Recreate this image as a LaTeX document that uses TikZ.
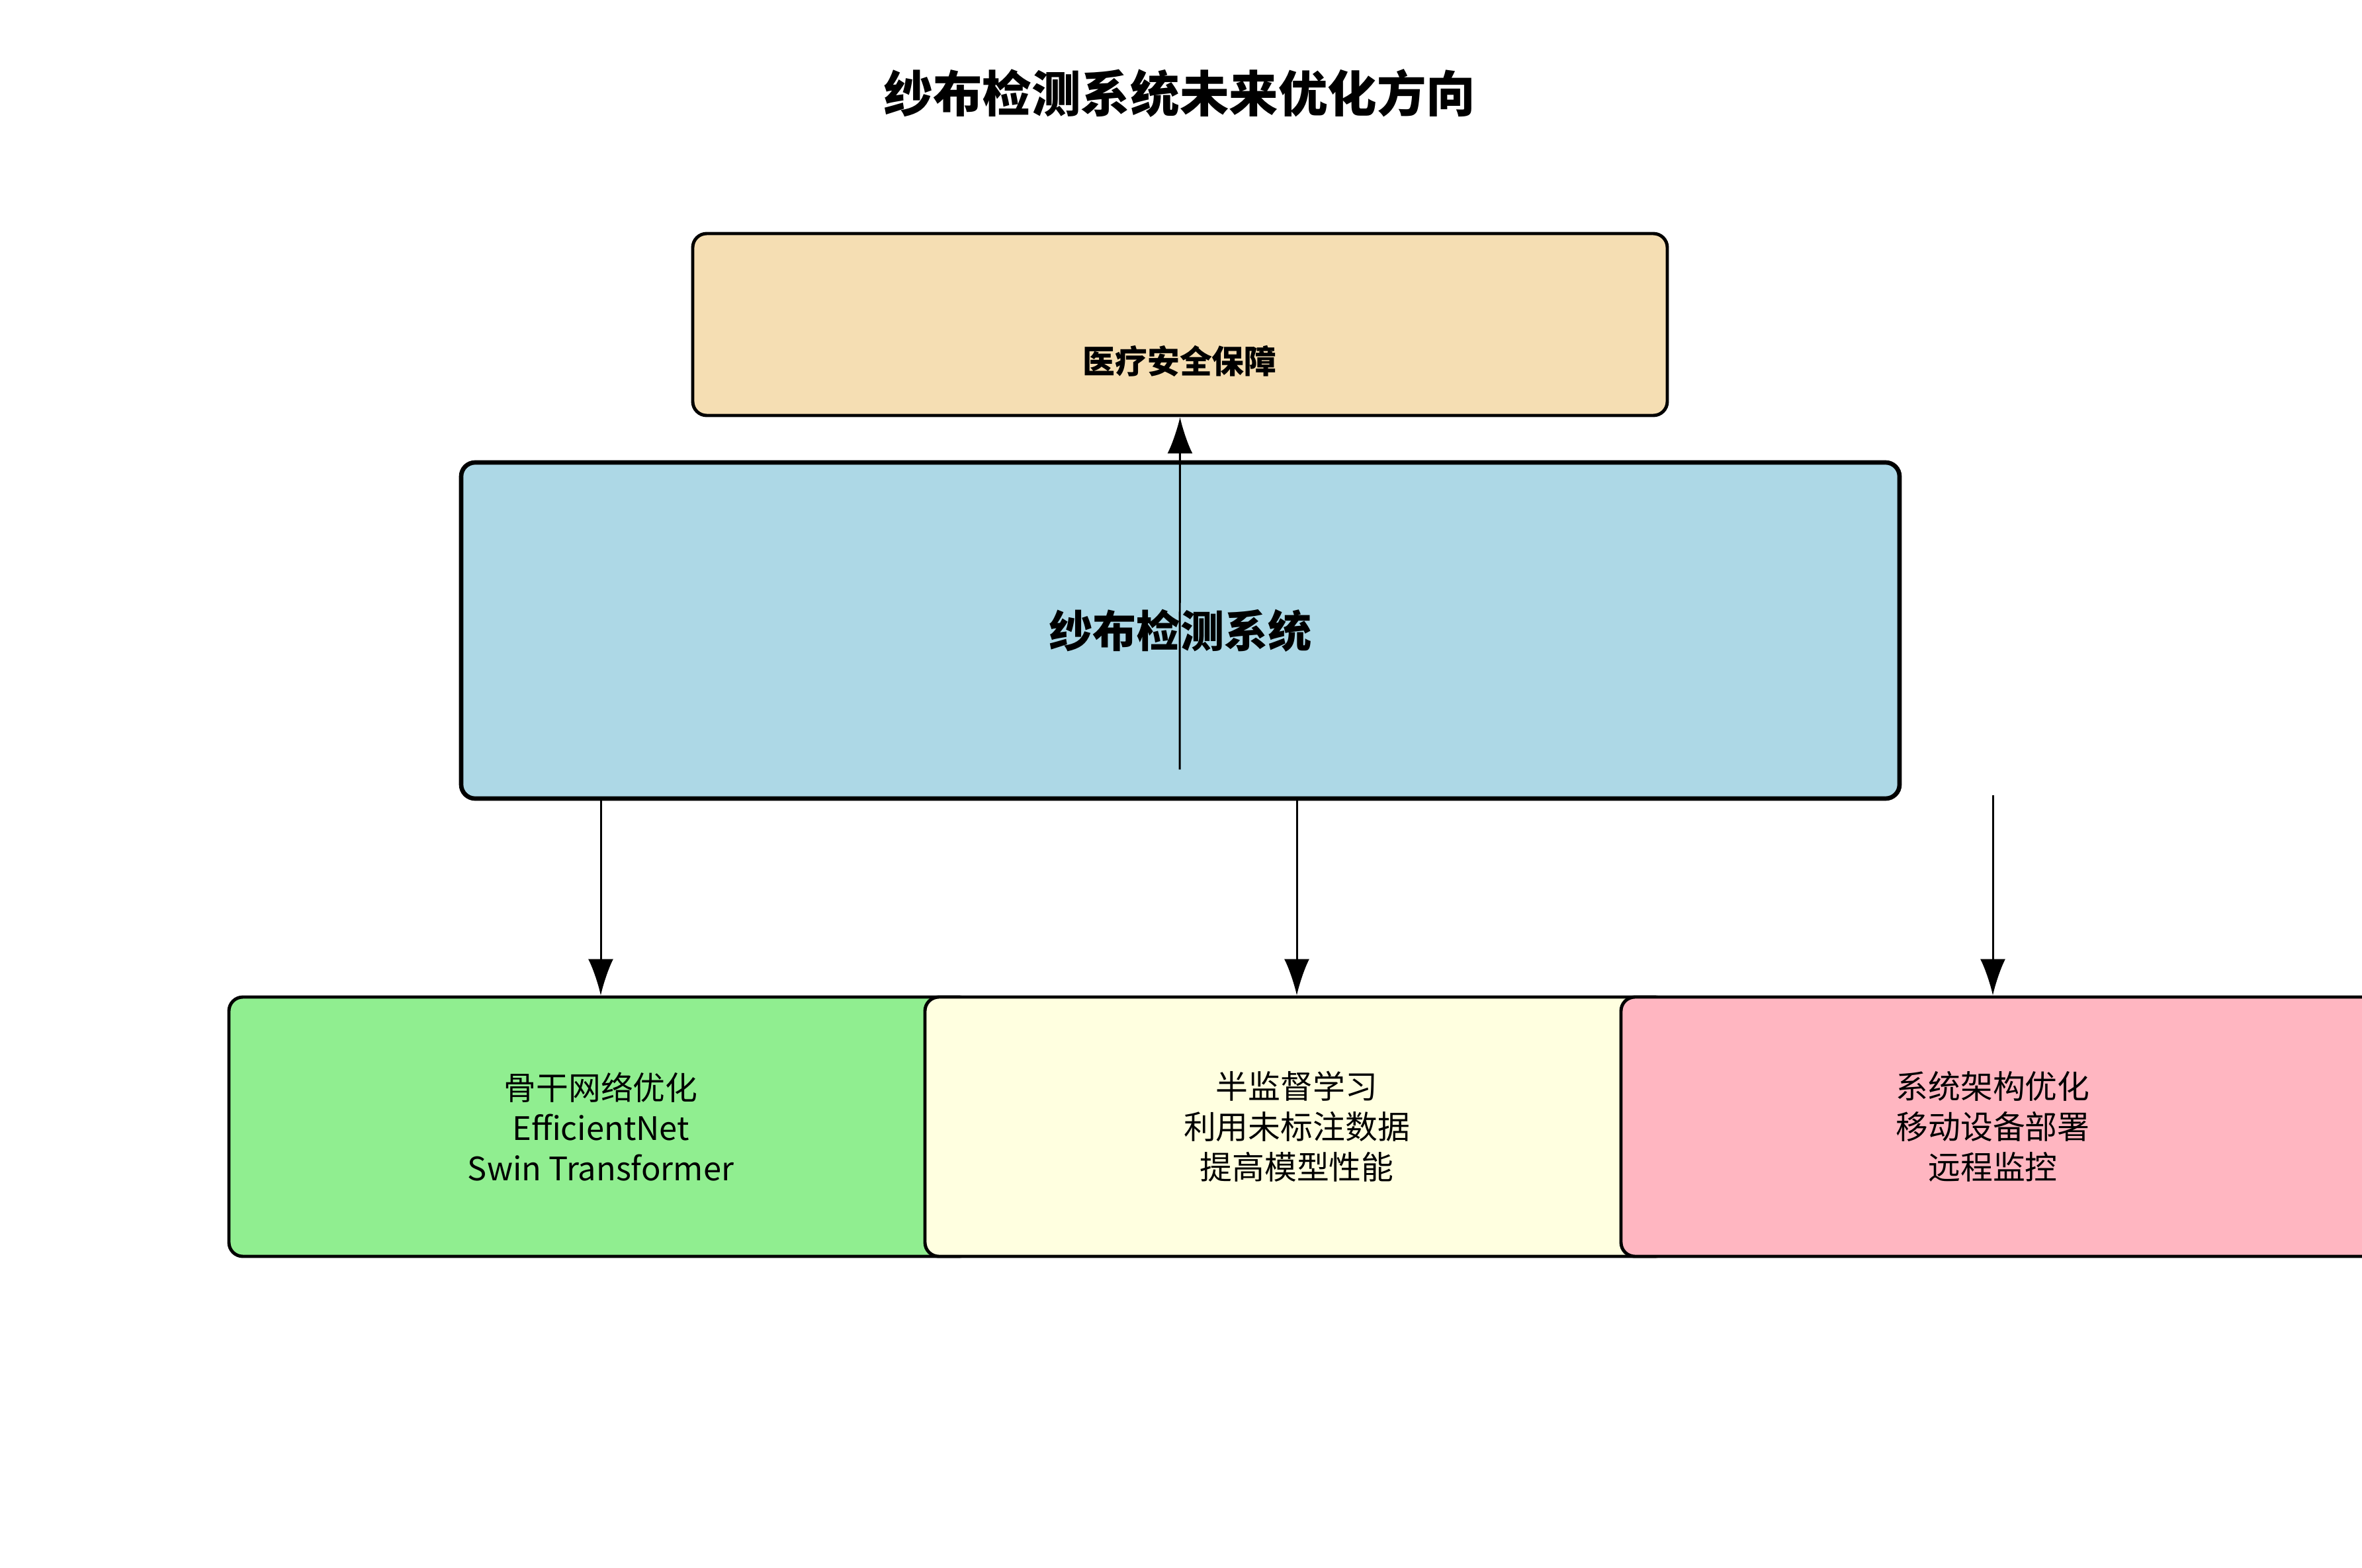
\documentclass[tikz,border=0pt]{standalone}
\usepackage{fontspec}
\setmainfont{Noto Sans CJK SC}
\usetikzlibrary{arrows.meta,calc}
\definecolor{ink}{HTML}{000000}
\definecolor{wheatbg}{HTML}{F5DEB3}
\definecolor{bluebg}{HTML}{ADD8E6}
\definecolor{greenbg}{HTML}{90EE90}
\definecolor{yellowbg}{HTML}{FFFFE0}
\definecolor{pinkbg}{HTML}{FFB6C1}

\begin{document}
\begin{tikzpicture}[x=1cm,y=-1cm,text=ink,
  box/.style={draw=ink,line width=1.4pt,rounded corners=6pt,
    align=center,inner sep=0pt},
  item/.style={box,minimum width=11.24cm,minimum height=3.92cm,
    font=\fontsize{13.9}{17.3}\selectfont},
  flow/.style={-{Latex[length=0.55cm,width=0.38cm]},line width=.85pt,draw=ink}]
\useasboundingbox (0,0) rectangle (35.7,23.7);

% title
\node[font=\bfseries\fontsize{21.2}{25}\selectfont] (title) at (17.83,1.41)
  {纱布检测系统未来优化方向};

% goal on top, label sits low in the box
\node[box,fill=wheatbg,minimum width=14.73cm,minimum height=2.75cm] (goal)
  at (17.835,4.905) {};
\node[font=\bfseries\fontsize{13.9}{17}\selectfont] (goaltext) at (17.83,5.46)
  {医疗安全保障};

% core system
\node[box,fill=bluebg,line width=1.9pt,minimum width=21.74cm,minimum height=5.08cm,
  font=\bfseries\fontsize{18.8}{22}\selectfont] (core) at (17.84,9.53)
  {纱布检测系统};

% three directions, each box slides under the next one
\node[item,fill=greenbg] (backbone) at (9.08,17.03)
  {骨干网络优化\\EfficientNet\\Swin Transformer};
\node[item,fill=yellowbg] (semi) at (19.60,17.03)
  {半监督学习\\利用未标注数据\\提高模型性能};
% last box runs off the page edge
\node[item,fill=pinkbg,minimum width=11.5cm] (arch) at (30.25,17.03) {};
\node[align=center,font=\fontsize{13.9}{17.3}\selectfont] (archtext)
  at (30.12,17.03) {系统架构优化\\移动设备部署\\远程监控};

% connectors
\coordinate (upstart) at (17.83,11.63);
\coordinate (archstart) at (30.12,12.02);
\draw[flow] (upstart)--(goal.south);
\draw[flow] (backbone.north |- core.south)--(backbone.north);
\draw[flow] (semi.north |- core.south)--(semi.north);
\draw[flow] (archstart)--(archstart |- arch.north);
\end{tikzpicture}
\end{document}
